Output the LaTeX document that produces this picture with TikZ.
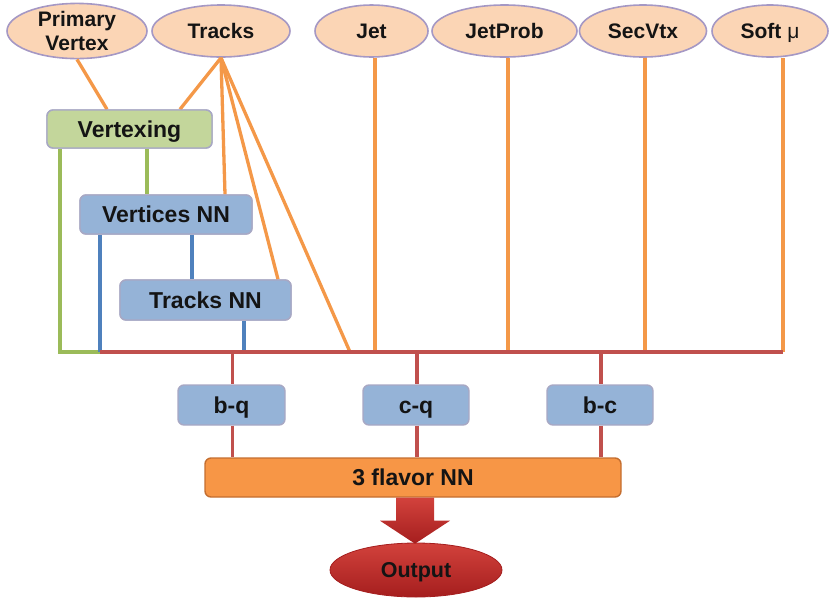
\documentclass[tikz,border=0pt]{standalone}
\usepackage{fontspec}
\setmainfont{Liberation Sans}
\usetikzlibrary{shapes.geometric,calc}

\definecolor{ovalfill}{RGB}{251,213,181}
\definecolor{ovaldraw}{RGB}{165,152,196}
\definecolor{greenfill}{RGB}{195,214,155}
\definecolor{bluefill}{RGB}{149,179,215}
\definecolor{boxdraw}{RGB}{168,168,196}
\definecolor{orangeline}{RGB}{244,152,72}
\definecolor{greenline}{RGB}{155,187,89}
\definecolor{blueline}{RGB}{79,129,189}
\definecolor{redline}{RGB}{192,80,77}
\definecolor{flavfill}{RGB}{247,150,70}
\definecolor{flavdraw}{RGB}{196,110,48}
\definecolor{outtop}{RGB}{210,66,60}
\definecolor{outbot}{RGB}{165,30,30}
\definecolor{txt}{RGB}{20,20,20}

\tikzset{
  oval/.style={ellipse, fill=ovalfill, draw=ovaldraw, line width=1.6pt,
    inner sep=0pt, minimum height=52pt, text=txt, align=center,
    text height=15pt, text depth=0pt,
    font=\fontsize{21}{24}\selectfont\bfseries},
  boxbase/.style={rectangle, rounded corners=6pt, draw=boxdraw, line width=1.4pt,
    inner sep=0pt, text=txt, text height=16.5pt, text depth=0pt,
    font=\fontsize{23}{25}\selectfont\bfseries},
  greenbox/.style={boxbase, fill=greenfill},
  bluebox/.style={boxbase, fill=bluefill},
  flavbox/.style={boxbase, fill=flavfill, draw=flavdraw},
  outoval/.style={ellipse, top color=outtop, bottom color=outbot, draw=outbot,
    line width=0.8pt, inner sep=0pt, text=txt, text height=15.5pt, text depth=0pt,
    font=\fontsize{21.5}{23}\selectfont\bfseries},
  oline/.style={draw=orangeline, line width=3.3pt},
  gline/.style={draw=greenline, line width=3.3pt},
  bline/.style={draw=blueline, line width=3.3pt},
  rline/.style={draw=redline, line width=3.3pt},
}

\begin{document}
\begin{tikzpicture}[x=1pt,y=-1pt]
\useasboundingbox (0,0) rectangle (830,598);

% input variables
\node[oval, minimum width=140pt, text height=39pt] (pv) at (77,31) {Primary\\Vertex};
\node[oval, minimum width=138pt] (tracks) at (221,31) {Tracks};
\node[oval, minimum width=113pt] (jet) at (371.5,31) {Jet};
\node[oval, minimum width=145pt] (jetprob) at (504.5,31) {JetProb};
\node[oval, minimum width=127pt] (secvtx) at (643,31) {SecVtx};
\node[oval, minimum width=116pt] (soft) at (770,31) {Soft {\mdseries μ}};

% pre-processing networks
\node[greenbox, minimum width=165pt, minimum height=38pt] (vx) at (129.5,129) {Vertexing};
\node[bluebox, minimum width=172pt, minimum height=39pt] (vnn) at (166,214.5) {Vertices NN};
\node[bluebox, minimum width=171pt, minimum height=40pt] (tnn) at (205.5,300) {Tracks NN};

% pairwise networks and final network
\node[bluebox, minimum width=107pt, minimum height=40pt] (bq) at (231.5,405) {b-q};
\node[bluebox, minimum width=106pt, minimum height=40pt] (cq) at (416,405) {c-q};
\node[bluebox, minimum width=106pt, minimum height=40pt] (bc) at (600,405) {b-c};
\node[flavbox, minimum width=416pt, minimum height=39pt] (flav) at (413,477.5) {3 flavor NN};
\node[outoval, minimum width=172pt, minimum height=54pt] (out) at (416,570) {Output};

% bus coordinates
\coordinate (busL) at (60,352);
\coordinate (busB) at (100,352);
\coordinate (busT) at (350,352);
\coordinate (busR) at (783,352);

% orange feeds from the inputs
\draw[oline] (pv.south) -- ([xshift=-22.5pt]vx.north);
\draw[oline] (tracks.south) -- ([xshift=50.5pt]vx.north);
\draw[oline] (tracks.south) -- ([xshift=59pt]vnn.north);
\draw[oline] (tracks.south) -- ([xshift=72.5pt]tnn.north);
\draw[oline] (tracks.south) -- (busT);
\draw[oline] ([xshift=3.5pt]jet.south) -- ([xshift=3.5pt]jet.south |- busR);
\draw[oline] ([xshift=3.5pt]jetprob.south) -- ([xshift=3.5pt]jetprob.south |- busR);
\draw[oline] ([xshift=2pt]secvtx.south) -- ([xshift=2pt]secvtx.south |- busR);
\draw[oline] ([xshift=13pt]soft.south) -- (busR);

% green and blue links
\draw[gline] ([xshift=-69.5pt]vx.south) -- (busL) -- (busB);
\draw[gline] ([xshift=17.5pt]vx.south) -- ([xshift=17.5pt]vx.south |- vnn.north);
\draw[bline] ([xshift=-66pt]vnn.south) -- (busB);
\draw[bline] ([xshift=26pt]vnn.south) -- ([xshift=26pt]vnn.south |- tnn.north);
\draw[bline] ([xshift=38.5pt]tnn.south) -- ([xshift=38.5pt]tnn.south |- busR);

% main bus and pairwise links
\draw[rline] (busB) -- (busR);
\foreach \n in {bq,cq,bc}{
  \draw[rline] ([xshift=1pt]\n.north |- busR) -- ([xshift=1pt]\n.north);
  \draw[rline] ([xshift=1pt]\n.south) -- ([xshift=1pt]\n.south |- flav.north);
}

% redraw boxes over line ends
\node[greenbox, minimum width=165pt, minimum height=38pt] at (vx) {Vertexing};
\node[bluebox, minimum width=172pt, minimum height=39pt] at (vnn) {Vertices NN};
\node[bluebox, minimum width=171pt, minimum height=40pt] at (tnn) {Tracks NN};

% block arrow to the output
\path[top color=outtop, bottom color=outbot]
  ($(flav.south)+(-17,0)$) -- ($(flav.south)+(-17,23)$) -- ($(flav.south)+(-33,23)$)
  -- ($(flav.south)+(2,46)$) -- ($(flav.south)+(37,23)$) -- ($(flav.south)+(21,23)$)
  -- ($(flav.south)+(21,0)$) -- cycle;
\end{tikzpicture}
\end{document}
